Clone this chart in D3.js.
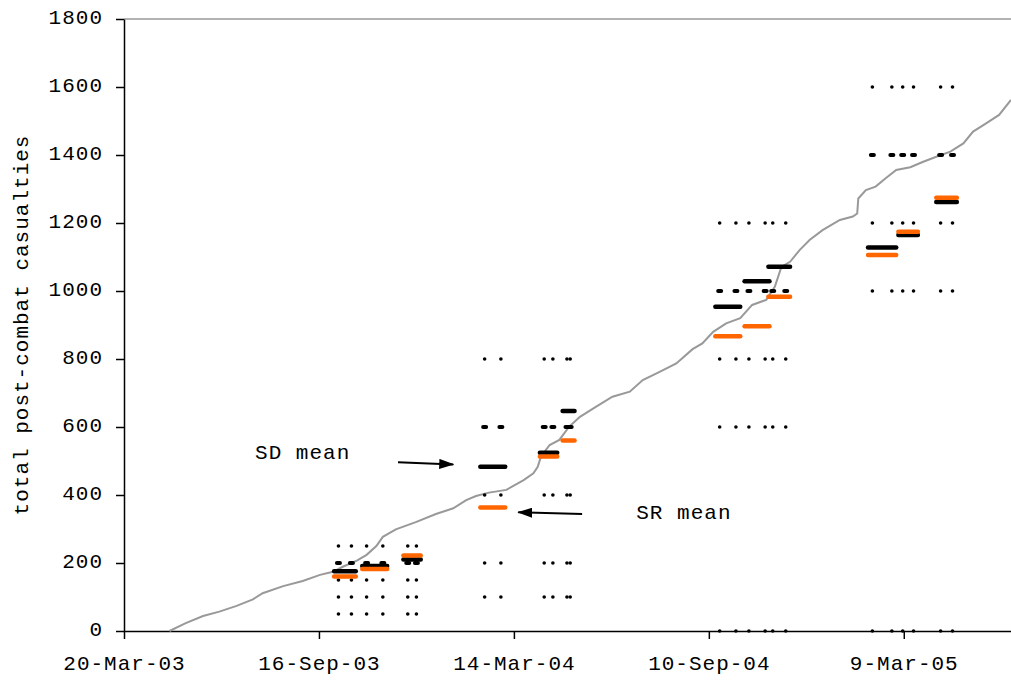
<!DOCTYPE html>
<html>
<head>
<meta charset="utf-8">
<script src="https://cdn.jsdelivr.net/npm/d3@7"></script>
<style>
  html, body { margin: 0; padding: 0; background: #fff; }
  svg text { font-family: "Liberation Mono", "DejaVu Sans Mono", monospace; font-size: 21px; letter-spacing: 1px; fill: #000; }
</style>
</head>
<body>
<svg id="chart" width="1011" height="682"></svg>
<script>
// axis ticks
const xTickDates = ['2003-03-20', '2003-09-16', '2004-03-14', '2004-09-10', '2005-03-09'];
const yTickValues = [0, 200, 400, 600, 800, 1000, 1200, 1400, 1600, 1800];

// cumulative post-combat casualties
const lineDates = ['2003-05-01','2003-05-16','2003-06-01','2003-06-16','2003-07-02','2003-07-17','2003-07-26','2003-08-14',
  '2003-09-01','2003-09-17','2003-09-29','2003-10-08','2003-10-21','2003-10-30','2003-11-08','2003-11-14','2003-11-26',
  '2003-12-15','2004-01-02','2004-01-18','2004-01-30','2004-02-08','2004-02-20','2004-03-07','2004-03-23','2004-04-01',
  '2004-04-05','2004-04-08','2004-04-16','2004-04-25','2004-05-04','2004-05-14','2004-05-29','2004-06-13','2004-06-29',
  '2004-07-11','2004-07-27','2004-08-11','2004-08-26','2004-09-04','2004-09-14','2004-09-26','2004-10-09','2004-10-20',
  '2004-11-02','2004-11-10','2004-11-16','2004-11-24','2004-12-03','2004-12-12','2004-12-24','2005-01-09','2005-01-21',
  '2005-01-25','2005-01-26','2005-02-02','2005-02-11','2005-02-20','2005-03-02','2005-03-15','2005-03-27','2005-04-08',
  '2005-04-21','2005-05-03','2005-05-12','2005-05-24','2005-06-05','2005-06-16'];
const lineTotals = [0, 23, 44, 57, 74, 93, 111, 132,
  147, 165, 174, 189, 207, 224, 250, 277, 299,
  321, 344, 361, 385, 397, 407, 415, 444, 464,
  483, 513, 547, 562, 601, 630, 660, 689, 704,
  738, 763, 787, 829, 846, 880, 905, 920, 959,
  974, 1013, 1071, 1086, 1121, 1150, 1179, 1209, 1219,
  1228, 1272, 1297, 1307, 1331, 1356, 1364, 1380, 1395,
  1410, 1434, 1469, 1493, 1518, 1562];

// prediction groups: column dates, answer levels, the heavier level, and the two means
const groupColumns = [
  ['2003-10-04', '2003-10-16'], ['2003-10-30', '2003-11-14'], ['2003-12-07', '2003-12-15'],
  ['2004-02-16', '2004-03-02'], ['2004-04-11', '2004-04-19'], ['2004-05-02', '2004-05-05'],
  ['2004-09-20', '2004-10-05'], ['2004-10-17', '2004-11-01'], ['2004-11-08', '2004-11-20'],
  ['2005-02-08', '2005-02-26'], ['2005-03-08', '2005-03-18'], ['2005-04-12', '2005-04-23']
];
const levelsA = [250, 200, 150, 100, 50];
const levelsB = [800, 600, 400, 200, 100];
const levelsC = [1200, 1000, 800, 600, 0];
const levelsD = [1600, 1400, 1200, 1000, 0];
const groupLevels = [levelsA, levelsA, levelsA, levelsB, levelsB, levelsB, levelsC, levelsC, levelsC, levelsD, levelsD, levelsD];
const dashLevels = [200, 200, 200, 600, 600, 600, 1000, 1000, 1000, 1400, 1400, 1400];
const sdMeans = [176, 191, 210, 483, 524, 647, 954, 1029, 1071, 1128, 1165, 1262];
const srMeans = [160, 182, 222, 363, 513, 560, 867, 896, 983, 1106, 1174, 1274];

// annotations: [label, label date, label value, arrow from date, from value, to date, to value]
const notes = [
  ['SD mean', '2003-07-19', 506, '2003-11-28', 496, '2004-01-18', 490],
  ['SR mean', '2004-07-05', 329, '2004-05-16', 344, '2004-03-18', 349]
];

const parse = d3.timeParse('%Y-%m-%d');
const svg = d3.select('#chart');

const x = d3.scaleTime()
  .domain([parse('2003-03-20'), parse('2005-06-16')])
  .range([124, 1011]);
const y = d3.scaleLinear()
  .domain([0, 1800])
  .range([631, 19]);

svg.append('defs').append('marker')
  .attr('id', 'head')
  .attr('markerUnits', 'userSpaceOnUse')
  .attr('markerWidth', 15).attr('markerHeight', 10)
  .attr('refX', 14).attr('refY', 5)
  .attr('orient', 'auto')
  .append('path')
  .attr('d', 'M0,0 L15,5 L0,10 Z')
  .attr('fill', '#000');

// top frame line
svg.append('line')
  .attr('x1', x.range()[0]).attr('x2', x.range()[1])
  .attr('y1', y(1800)).attr('y2', y(1800))
  .attr('stroke', '#999').attr('stroke-width', 1.5);

// axes
const xAxis = svg.append('g')
  .attr('transform', `translate(0,${y(0)})`)
  .call(d3.axisBottom(x)
    .tickValues(xTickDates.map(parse))
    .tickFormat(d3.timeFormat('%-d-%b-%y'))
    .tickSize(8).tickSizeOuter(0).tickPadding(16));
xAxis.select('.domain').attr('stroke', '#000').attr('stroke-width', 1.5);
xAxis.selectAll('.tick line').attr('stroke', '#000').attr('stroke-width', 1.5);
xAxis.selectAll('text').attr('font-size', null).attr('font-family', null);

const yAxis = svg.append('g')
  .attr('transform', `translate(${x.range()[0]},0)`)
  .call(d3.axisLeft(y)
    .tickValues(yTickValues)
    .tickFormat(d3.format('d'))
    .tickSize(8).tickSizeOuter(0).tickPadding(13));
yAxis.select('.domain').attr('stroke', '#000').attr('stroke-width', 1.5);
yAxis.selectAll('.tick line').attr('stroke', '#000').attr('stroke-width', 1.5);
yAxis.selectAll('text').attr('font-size', null).attr('font-family', null).attr('dy', '0.22em');

svg.append('text')
  .attr('transform', `translate(28,${(y(0) + y(1800)) / 2}) rotate(-90)`)
  .attr('text-anchor', 'middle')
  .text('total post-combat casualties');

// cumulative line
const lineData = d3.zip(lineDates.map(parse), lineTotals);
svg.append('path')
  .datum(lineData)
  .attr('fill', 'none')
  .attr('stroke', '#999')
  .attr('stroke-width', 2)
  .attr('d', d3.line().x(d => x(d[0])).y(d => y(d[1])));

// prediction marks
const marks = [];
groupColumns.forEach((cols, g) => {
  cols.forEach(c => {
    groupLevels[g].forEach(v => marks.push({ date: parse(c), value: v, dash: v === dashLevels[g] }));
  });
});
const markG = svg.append('g');
markG.selectAll('circle')
  .data(marks.filter(d => !d.dash))
  .join('circle')
  .attr('cx', d => x(d.date))
  .attr('cy', d => y(d.value))
  .attr('r', 1.8)
  .attr('fill', '#000');
markG.selectAll('rect')
  .data(marks.filter(d => d.dash))
  .join('rect')
  .attr('x', d => x(d.date) - 3.5)
  .attr('y', d => y(d.value) - 2)
  .attr('width', 7).attr('height', 4).attr('rx', 2)
  .attr('fill', '#000');

// mean bars
const span = cols => [d3.timeDay.offset(parse(cols[0]), -4), d3.timeDay.offset(parse(cols[cols.length - 1]), 4)];
const drawMeans = (means, colour) => {
  svg.append('g').selectAll('line')
    .data(means.map((m, g) => ({ m, s: span(groupColumns[g]) })))
    .join('line')
    .attr('x1', d => x(d.s[0])).attr('x2', d => x(d.s[1]))
    .attr('y1', d => y(d.m)).attr('y2', d => y(d.m))
    .attr('stroke', colour)
    .attr('stroke-width', 4.5)
    .attr('stroke-linecap', 'round');
};
drawMeans(sdMeans, '#000');
drawMeans(srMeans, '#ff6600');

// annotations
notes.forEach(n => {
  svg.append('text')
    .attr('x', x(parse(n[1]))).attr('y', y(n[2]))
    .text(n[0]);
  svg.append('line')
    .attr('x1', x(parse(n[3]))).attr('y1', y(n[4]))
    .attr('x2', x(parse(n[5]))).attr('y2', y(n[6]))
    .attr('stroke', '#000').attr('stroke-width', 2)
    .attr('marker-end', 'url(#head)');
});
</script>
</body>
</html>
